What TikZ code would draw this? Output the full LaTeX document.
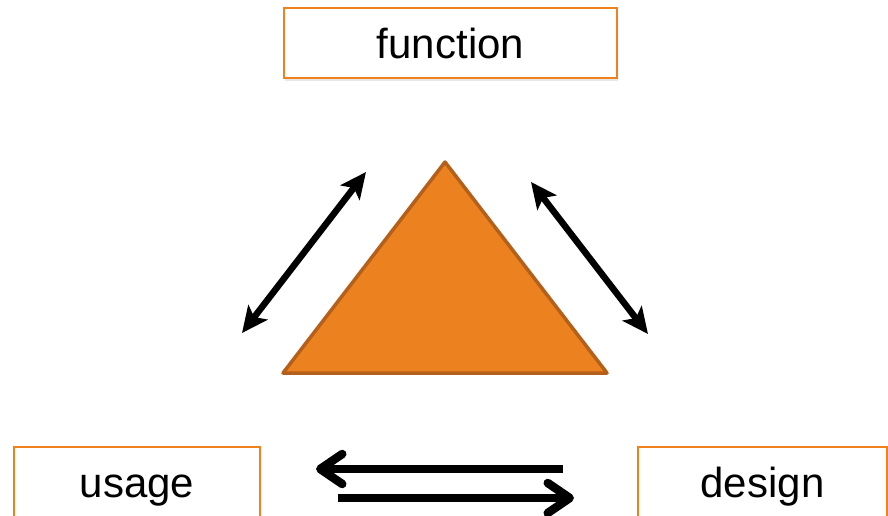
\documentclass[tikz,border=0pt]{standalone}
\usepackage{fontspec}
\setmainfont{Liberation Sans}
\usetikzlibrary{arrows.meta,shadows}
\definecolor{boxorange}{HTML}{F0821E}
\definecolor{trifill}{HTML}{EB821F}
\definecolor{triline}{HTML}{B4601A}
\begin{document}
\begin{tikzpicture}[x=1pt,y=-1pt]
\tikzstyle{box}=[draw=boxorange, line width=2pt, fill=white, inner sep=0pt,
  minimum height=70pt, text height=31pt, text depth=0pt,
  font=\fontsize{42}{50}\selectfont,
  drop shadow={opacity=0.18, shadow xshift=1pt, shadow yshift=-3pt}]
\tikzstyle{dbl}=[line width=6.5pt, {Stealth[length=26pt,width=24pt,inset=6pt]}-{Stealth[length=26pt,width=24pt,inset=6pt]}]
\tikzstyle{flat}=[line width=8.5pt, -{Straight Barb[length=22pt,width=30pt,round]}]
\useasboundingbox (0,0) rectangle (888,516);
\fill [white] (0,0) rectangle (888,516);
\node [box, minimum width=333pt] (function) at (450.5,43) {function};
\node [box, minimum width=246pt] (usage) at (137,481.5) {usage};
\node [box, minimum width=249pt] (design) at (762.5,482) {design};
\draw [triline, fill=trifill, line width=3.5pt, line join=round] (445,162) -- (607,373) -- (283,373) -- cycle;
\coordinate (fl) at (242,333);
\coordinate (ft) at (366,172);
\coordinate (dt) at (531,182);
\coordinate (dl) at (648,334);
\draw [dbl] (fl) -- (ft);
\draw [dbl] (dt) -- (dl);
\coordinate (da) at (563,469);
\coordinate (ua) at (316,469);
\coordinate (ub) at (338,498);
\coordinate (db) at (574,498);
\draw [flat] (da) -- (ua);
\draw [flat] (ub) -- (db);
\end{tikzpicture}
\end{document}
